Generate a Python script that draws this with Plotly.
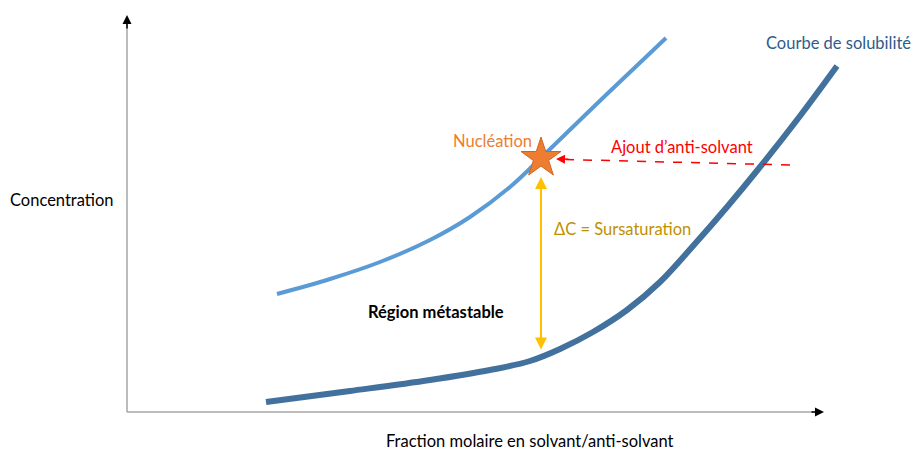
import plotly.graph_objects as go

# Schematic data (read in picture units: x to the right, y downward)
nucl_x = [277, 330, 380, 430, 470, 510, 547, 607, 666]
nucl_y = [294, 279, 262, 240, 217, 187, 152, 94, 38]

sol_x = [266, 350, 430, 490, 530, 560, 593, 627, 660, 693, 727, 760, 800, 837]
sol_y = [402, 391, 380, 370, 361, 349, 332, 310, 282, 246, 207, 167, 116, 66]

star_x = [541]
star_y = [158]

FONT = "Lato"
FS = 16.5

fig = go.Figure()

fig.add_trace(go.Scatter(x=nucl_x, y=nucl_y, mode="lines", line=dict(color="#5B9BD5", width=4, shape="spline", smoothing=1.0),
                         hoverinfo="skip", showlegend=False))
fig.add_trace(go.Scatter(x=sol_x, y=sol_y, mode="lines", line=dict(color="#41719C", width=6, shape="spline", smoothing=1.0),
                         hoverinfo="skip", showlegend=False))

# axes lines
fig.add_shape(type="line", x0=127, y0=412, x1=127, y1=20, line=dict(color="#A6A6A6", width=1.5))
fig.add_shape(type="line", x0=127, y0=412, x1=818, y1=412, line=dict(color="#A6A6A6", width=1.5))

ann = []
# axis arrowheads
ann.append(dict(x=127, y=15, ax=127, ay=30, xref="x", yref="y", axref="x", ayref="y", text="",
                showarrow=True, arrowhead=2, arrowsize=1.2, arrowwidth=1.5, arrowcolor="#000000"))
ann.append(dict(x=824, y=412, ax=810, ay=412, xref="x", yref="y", axref="x", ayref="y", text="",
                showarrow=True, arrowhead=2, arrowsize=1.2, arrowwidth=1.5, arrowcolor="#000000"))
# dashed red arrow
fig.add_shape(type="line", x0=790, y0=165, x1=566, y1=159.5, line=dict(color="#FF0000", width=1.5, dash="dash"))
ann.append(dict(x=556, y=159, ax=570, ay=159.3, xref="x", yref="y", axref="x", ayref="y", text="",
                showarrow=True, arrowhead=2, arrowsize=1.2, arrowwidth=1.5, arrowcolor="#FF0000"))
# yellow double arrow
ann.append(dict(x=541, y=177, ax=541, ay=351, xref="x", yref="y", axref="x", ayref="y", text="",
                showarrow=True, arrowhead=2, startarrowhead=2, arrowside="end+start", arrowsize=1.2,
                startarrowsize=1.2, arrowwidth=2, arrowcolor="#FFC000"))

fig.add_trace(go.Scatter(x=star_x, y=star_y, mode="markers",
                         marker=dict(symbol="star", size=30, color="#ED7D31", line=dict(color="#D0651E", width=1)),
                         hoverinfo="skip", showlegend=False))

def txt(x, y, t, color, size=FS, bold=False):
    ann.append(dict(x=x, y=y, xref="x", yref="y", text=("<b>%s</b>" % t) if bold else t, showarrow=False,
                    font=dict(family=FONT, size=size, color=color), xanchor="center", yanchor="middle"))

txt(492, 141, "Nucléation", "#ED7D31")
txt(682, 147, "Ajout d’anti-solvant", "#FF0000")
txt(622, 229, "ΔC = Sursaturation", "#BF9000")
txt(436, 312, "Région métastable", "#000000", bold=True)
txt(838, 43, "Courbe de solubilité", "#2E5C8A")
txt(62, 200, "Concentration", "#000000")
txt(530, 441, "Fraction molaire en solvant/anti-solvant", "#000000")

fig.update_layout(
    width=912, height=450, margin=dict(l=0, r=0, t=0, b=0),
    paper_bgcolor="white", plot_bgcolor="white",
    xaxis=dict(range=[0, 912], visible=False, fixedrange=True),
    yaxis=dict(range=[450, 0], visible=False, fixedrange=True),
    annotations=ann, showlegend=False,
)

fig.write_html("out.html", config={"displayModeBar": False},
               post_script="document.body.style.margin='0';document.body.style.padding='0';")
